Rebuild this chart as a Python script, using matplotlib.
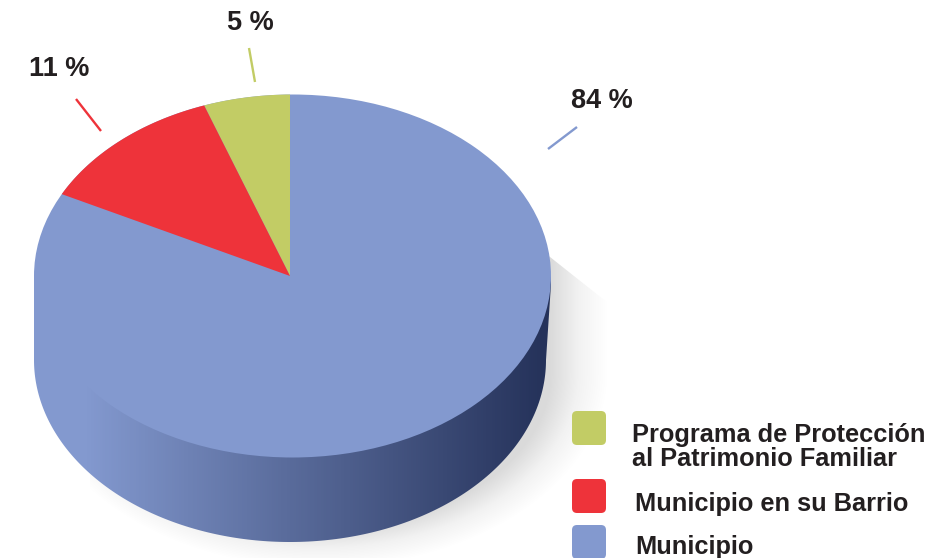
import numpy as np
import matplotlib
matplotlib.use("Agg")
import matplotlib.pyplot as plt
from matplotlib.patches import Ellipse, FancyBboxPatch, Polygon
from matplotlib.colors import LinearSegmentedColormap

# shares as the slices are drawn in the picture, and the labels printed on it
categories = ["Programa de Protección\nal Patrimonio Familiar", "Municipio en su Barrio", "Municipio"]
slice_shares = [5.4, 12.0, 82.6]
percent_labels = ["5 %", "11 %", "84 %"]
colors = ["#C2CC65", "#EE333A", "#8399CF"]
dark_blue = "#25325A"
text_color = "#231F20"

cx, cy, rx, ry = 292.5, 276.0, 258.5, 181.5
apex = (290.0, 276.0)
base_cx, base_cy, base_rx, base_ry = 290.0, 360.0, 256.0, 182.0

plt.rcParams["font.family"] = ["Liberation Sans", "DejaVu Sans"]
fig = plt.figure(figsize=(9.51, 5.58), dpi=100)
ax = fig.add_axes([0, 0, 1, 1])

# soft shadow, a halo around the lower right of the body
xx, yy = np.meshgrid(np.arange(90, 612), np.arange(250, 559))
q = np.sqrt(((xx - 320) / 287) ** 2 + (np.clip(yy - 372, 0, None) / 195) ** 2)
shade = np.clip((q - 0.80) / 0.20, 0, 1)
cmap_shadow = LinearSegmentedColormap.from_list("sh", ["#DADADA", "#F2F2F2", "#FFFFFF"])
im = ax.imshow(shade, extent=(90, 612, 559, 250), cmap=cmap_shadow, aspect="auto", vmin=0, vmax=1, zorder=1)
im.set_clip_path(Polygon([(545, 253), (608, 303), (608, 559), (90, 559), (90, 400), (300, 400)],
                         transform=ax.transData))

# body of the cylinder, gradient clipped to its outline
t = np.linspace(0, np.pi, 200)
bottom = np.column_stack([base_cx + base_rx * np.cos(t), base_cy + base_ry * np.sin(t)])
outline = np.vstack([[(551, 276), (551, 284)], bottom, [(34, 276)]])
body_patch = Polygon(outline, transform=ax.transData, fc="none", ec="none")
ax.add_patch(body_patch)
body_cmap = LinearSegmentedColormap.from_list("body", [colors[2], dark_blue])
grad = np.clip((np.arange(30, 556) - 85) / 460, 0, 1)[None, :]
body = ax.imshow(grad, extent=(30, 556, 545, 270), cmap=body_cmap, aspect="auto", vmin=0, vmax=1, zorder=2)
body.set_clip_path(body_patch)

# top face
ax.add_patch(Ellipse((cx, cy), 2 * rx, 2 * ry, fc=colors[2], ec="none", zorder=3))
start = 0.55
for share, color in zip(slice_shares[:2], colors[:2]):
    stop = start + share * 3.6
    a = np.radians(np.linspace(start, stop, 80))
    pts = np.column_stack([cx - rx * np.sin(a), cy - ry * np.cos(a)])
    ax.add_patch(Polygon(np.vstack([apex, pts]), fc=color, ec="none", zorder=4))
    start = stop

# leader lines and percent labels
leaders_x = [(249, 255), (76, 101), (548, 577)]
leaders_y = [(48, 82), (99, 131), (149, 127)]
label_pos = [(250, 30), (59, 76), (602, 108)]
for lx, ly, color, lab, pos in zip(leaders_x, leaders_y, colors, percent_labels, label_pos):
    ax.plot(lx, ly, color=color, lw=1.7, solid_capstyle="butt", zorder=5)
    ax.text(pos[0], pos[1], lab, ha="center", va="baseline", fontsize=19.5, fontweight="bold",
            color=text_color, zorder=6)

# legend
box_tops = [411, 479, 525]
text_x = [632, 635, 635]
text_y = [442, 511, 554]
for top, color, name, x, y in zip(box_tops, colors, categories, text_x, text_y):
    ax.add_patch(FancyBboxPatch((577, top + 5), 24, 24, boxstyle="round,pad=5,rounding_size=5",
                                fc=color, ec="none", zorder=5))
    if "\n" in name:
        first, second = name.split("\n")
        ax.text(x, y, first, fontsize=18.3, fontweight="bold", color=text_color, va="baseline", zorder=6)
        ax.text(x, y + 24, second, fontsize=18.3, fontweight="bold", color=text_color, va="baseline", zorder=6)
    else:
        ax.text(x, y, name, fontsize=18.3, fontweight="bold", color=text_color, va="baseline", zorder=6)

ax.set_xlim(0, 951)
ax.set_ylim(558, 0)
ax.axis("off")
fig.savefig("out.png", dpi=100)
